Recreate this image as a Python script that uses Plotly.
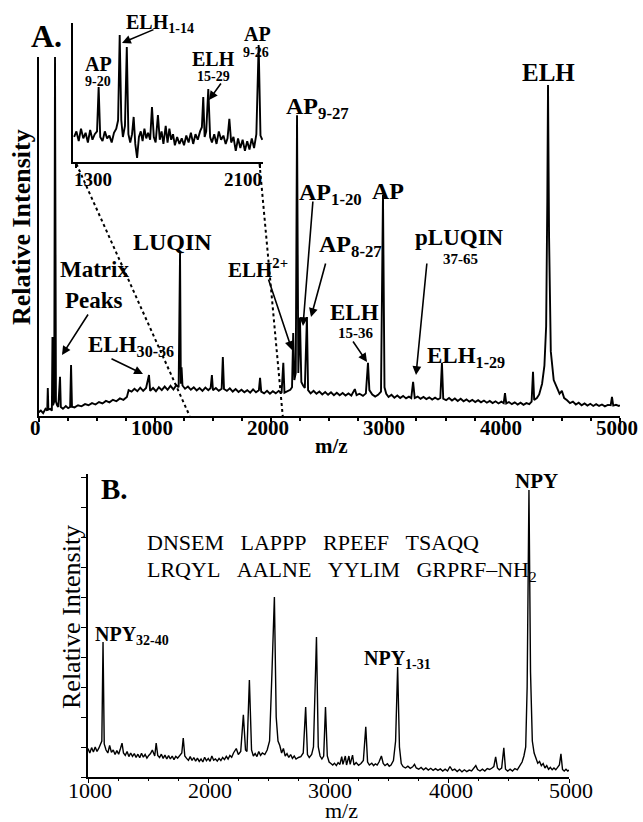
import plotly.graph_objects as go

W, H = 643, 822
FONT = "Liberation Serif"

# ---------------- Panel A: main spectrum (m/z, relative intensity) ----------------
A_MZ = [0, 20, 40, 60, 75, 80, 85, 100, 115, 120, 125, 135, 142, 150, 160, 170, 185, 192,
        210, 235, 255, 272, 280, 288, 310, 340, 370, 400, 430, 460, 490, 520, 550, 580,
        610, 640, 670, 700, 730, 760, 775, 800, 825, 850, 875, 900, 925, 950, 960, 985,
        1010, 1035, 1060, 1085, 1110, 1135, 1160, 1185, 1205, 1217, 1224, 1230, 1238,
        1260, 1285, 1310, 1335, 1360, 1385, 1410, 1435, 1460, 1480, 1491, 1500, 1525,
        1550, 1575, 1585, 1595, 1620, 1645, 1670, 1695, 1720, 1745, 1770, 1795, 1820,
        1845, 1870, 1895, 1905, 1915, 1940, 1965, 1990, 2015, 2040, 2065, 2090, 2105,
        2115, 2140, 2165, 2180, 2190, 2200, 2212, 2223, 2234, 2248, 2260, 2275, 2290,
        2308, 2318, 2340, 2365, 2390, 2415, 2440, 2465, 2490, 2515, 2540, 2565, 2590,
        2615, 2640, 2665, 2690, 2720, 2735, 2760, 2790, 2815, 2833, 2845, 2870, 2895,
        2920, 2945, 2962, 2975, 2990, 3010, 3035, 3060, 3085, 3110, 3135, 3160, 3185,
        3205, 3221, 3235, 3260, 3285, 3310, 3335, 3360, 3385, 3410, 3435, 3455, 3469,
        3480, 3505, 3530, 3555, 3580, 3605, 3630, 3655, 3680, 3705, 3730, 3755, 3780,
        3805, 3830, 3855, 3880, 3905, 3930, 3955, 3980, 4000, 4011, 4022, 4045, 4070,
        4095, 4120, 4145, 4170, 4195, 4220, 4240, 4252, 4262, 4285, 4305, 4330, 4350,
        4365, 4375, 4381, 4390, 4405, 4430, 4460, 4480, 4500, 4520, 4545, 4570, 4595,
        4620, 4645, 4670, 4695, 4720, 4745, 4770, 4795, 4820, 4845, 4870, 4895, 4920,
        4931, 4942, 4965, 4990, 5000]
A_INT = [1.0, 1.5, 0.8, 2.0, 1.5, 7.8, 1.8, 2.0, 1.5, 22.0, 3.0, 4.0, 100.0, 4.0, 3.0, 2.5, 10.9, 2.5,
         2.0, 2.8, 2.2, 2.5, 14.2, 2.6, 2.4, 3.0, 2.7, 3.3, 3.0, 3.6, 3.2, 3.9, 3.5, 4.2,
         3.8, 4.5, 4.1, 4.9, 4.5, 5.3, 7.2, 6.8, 7.6, 6.9, 7.9, 7.0, 7.8, 11.4, 7.0, 7.8,
         6.9, 8.0, 7.2, 8.2, 7.3, 8.4, 7.4, 8.6, 8.0, 45.4, 9.0, 13.6, 8.5,
         7.6, 8.2, 7.3, 8.0, 7.1, 7.8, 7.0, 7.9, 7.2, 7.8, 11.4, 7.2, 7.8,
         7.0, 7.6, 16.4, 7.5, 7.0, 7.7, 6.8, 7.5, 6.7, 7.3, 6.6, 7.2, 6.5,
         7.4, 6.6, 7.2, 10.6, 6.8, 6.3, 7.0, 6.2, 6.9, 6.3, 7.0, 6.4, 14.8,
         6.5, 6.8, 7.3, 8.0, 23.1, 10.0, 12.0, 83.8, 12.0, 27.3, 9.5, 8.5, 7.8,
         27.6, 7.2, 6.3, 7.0, 6.2, 6.8, 6.0, 6.7, 5.9, 6.6, 5.8, 6.5, 5.8,
         6.4, 5.7, 6.3, 5.7, 7.5, 5.8, 6.2, 5.6, 6.3, 14.8, 7.2, 6.0, 5.4,
         5.9, 6.8, 61.6, 8.0, 6.2, 5.3, 5.9, 5.1, 5.7, 5.0, 5.6, 4.9, 5.4,
         5.0, 9.5, 5.0, 5.4, 4.8, 5.3, 4.7, 5.2, 4.6, 5.1, 4.6, 5.0, 14.8,
         4.8, 4.4, 5.0, 4.3, 4.9, 4.2, 4.8, 4.1, 4.6, 4.0, 4.5, 3.9, 4.4,
         3.8, 4.3, 3.7, 4.2, 3.6, 4.1, 3.5, 4.0, 3.6, 6.4, 3.5, 3.9, 3.3,
         3.8, 3.2, 3.7, 3.1, 3.6, 3.3, 4.0, 12.3, 4.5, 5.0, 6.0, 9.0, 14.0,
         25.0, 60.0, 92.2, 50.0, 18.0, 10.0, 8.0, 6.2, 7.0, 5.0, 4.4, 3.6, 4.0,
         3.2, 3.7, 3.0, 3.5, 2.9, 3.4, 2.8, 3.3, 2.8, 3.2, 2.7, 3.1, 3.0,
         5.3, 2.9, 3.1, 2.8, 3.0]

# ---------------- Panel A inset: 1300-2100 zoom ----------------
INSET_MZ = [1290, 1300, 1310, 1320, 1330, 1340, 1350, 1360, 1370, 1380, 1390, 1397, 1404,
            1414, 1424, 1434, 1444, 1454, 1464, 1474, 1482, 1489, 1496, 1503, 1512, 1520,
            1527, 1535, 1543, 1550, 1557, 1565, 1573, 1581, 1589, 1597, 1605, 1613, 1622,
            1630, 1638, 1646, 1656, 1664, 1672, 1680, 1690, 1698, 1706, 1714, 1722, 1730,
            1740, 1750, 1760, 1770, 1780, 1790, 1800, 1810, 1820, 1830, 1840, 1848, 1854,
            1860, 1867, 1876, 1884, 1892, 1902, 1912, 1922, 1932, 1942, 1952, 1960, 1968,
            1976, 1986, 1996, 2006, 2016, 2026, 2036, 2046, 2056, 2066, 2076, 2086, 2096,
            2104, 2112]
INSET_INT = [18, 22, 15, 24, 17, 21, 14, 23, 16, 20, 22, 54, 18,
             15, 22, 17, 19, 14, 21, 24, 30, 91.4, 30, 18, 26, 82.7,
             20, 14, 20, 32.4, 13, 3, 18, 22, 15, 24, 17, 21, 16,
             39.6, 18, 14, 33.8, 16, 22, 13, 26, 14, 24, 16, 20, 12,
             18, 13, 17, 12, 19, 14, 21, 13, 20, 16, 22, 25, 46.8,
             18, 22, 52.5, 18, 14, 20, 13, 22, 16, 19, 13, 17, 31,
             14, 18, 8, 17, 10, 16, 8, 15, 9, 17, 10, 20, 84.2,
             19, 16]
INSET_TICKS = [1300, 2100]

# ---------------- Panel B: NPY spectrum ----------------
B_MZ = [1000, 1015, 1030, 1045, 1060, 1075, 1090, 1105, 1115, 1125, 1135, 1150, 1165, 1180,
        1195, 1210, 1225, 1240, 1255, 1270, 1283, 1295, 1310, 1325, 1340, 1355, 1370, 1385,
        1400, 1415, 1430, 1445, 1460, 1475, 1490, 1505, 1520, 1535, 1555, 1567, 1580, 1595,
        1610, 1625, 1640, 1655, 1670, 1685, 1700, 1715, 1730, 1745, 1765, 1780, 1792, 1805,
        1820, 1835, 1850, 1865, 1880, 1895, 1910, 1925, 1940, 1955, 1970, 1985, 2000, 2015,
        2030, 2045, 2060, 2075, 2090, 2105, 2120, 2135, 2150, 2165, 2180, 2195, 2210, 2233,
        2250, 2270, 2292, 2310, 2322, 2342, 2360, 2375, 2390, 2405, 2420, 2435, 2450, 2470,
        2490, 2510, 2530, 2550, 2565, 2580, 2595, 2610, 2625, 2640, 2655, 2670, 2685, 2700,
        2715, 2730, 2750, 2770, 2790, 2810, 2825, 2840, 2860, 2875, 2900, 2915, 2930, 2945,
        2960, 2975, 2990, 3005, 3020, 3035, 3050, 3065, 3080, 3095, 3110, 3120, 3140, 3150,
        3170, 3180, 3200, 3212, 3230, 3250, 3270, 3290, 3310, 3325, 3340, 3360, 3375, 3390,
        3405, 3420, 3440, 3455, 3470, 3490, 3505, 3520, 3540, 3558, 3575, 3590, 3605, 3620,
        3640, 3660, 3680, 3700, 3715, 3730, 3750, 3770, 3790, 3810, 3830, 3850, 3870, 3890,
        3910, 3930, 3950, 3970, 3990, 4010, 4030, 4050, 4070, 4090, 4110, 4130, 4150, 4170,
        4190, 4210, 4225, 4240, 4260, 4280, 4300, 4320, 4340, 4360, 4375, 4390, 4405, 4420,
        4440, 4458, 4472, 4490, 4510, 4530, 4550, 4570, 4590, 4610, 4625, 4640, 4652, 4667,
        4680, 4695, 4710, 4725, 4740, 4755, 4770, 4785, 4800, 4815, 4830, 4845, 4860, 4875,
        4890, 4905, 4920, 4933, 4946, 4960, 4975, 4990, 5000]
B_INT = [9.5, 8.0, 9.8, 8.3, 10.0, 8.5, 9.6, 11.0, 12.0, 45.0, 11.0, 9.0, 8.0, 10.5,
         8.2, 9.0, 7.5, 8.8, 7.6, 9.5, 11.3, 8.0, 7.2, 8.5, 6.8, 8.0, 6.9, 7.8,
         6.5, 7.6, 6.4, 7.9, 6.6, 7.5, 6.3, 7.2, 7.8, 9.0, 7.0, 11.3, 7.2, 6.5,
         7.6, 6.2, 7.3, 6.0, 7.1, 6.0, 7.0, 5.8, 6.9, 6.3, 7.5, 8.0, 13.0, 7.0,
         6.2, 5.6, 6.8, 5.5, 6.5, 5.3, 6.3, 5.2, 6.0, 5.0, 6.6, 5.4, 6.2, 5.2,
         7.0, 5.6, 6.0, 5.3, 6.2, 5.5, 6.5, 5.8, 6.9, 6.0, 7.2, 6.6, 8.0, 9.5,
         7.5, 8.5, 20.7, 9.0, 8.5, 32.3, 9.0, 7.0, 7.8, 6.8, 8.5, 7.2, 8.0, 7.5,
         9.0, 12.0, 35.0, 60.0, 20.0, 12.0, 10.5, 8.0, 9.5, 7.0, 7.8, 6.5, 7.5, 6.2,
         7.0, 6.0, 6.5, 6.8, 8.0, 23.3, 7.5, 6.5, 7.5, 10.0, 46.7, 10.0, 7.0, 6.0,
         7.0, 23.3, 7.0, 5.0, 4.5, 4.0, 4.6, 3.8, 4.8, 4.2, 6.8, 4.2, 7.0, 4.0,
         7.0, 4.2, 7.3, 4.0, 4.8, 3.9, 4.5, 5.5, 16.7, 5.0, 4.0, 4.6, 3.8, 4.4,
         4.0, 5.0, 7.0, 4.5, 3.8, 4.4, 3.6, 4.0, 5.5, 12.0, 36.7, 10.0, 4.5, 3.5,
         3.0, 3.6, 2.9, 3.4, 4.2, 3.0, 2.6, 3.2, 2.4, 3.0, 2.3, 2.9, 2.2, 2.8,
         2.2, 2.7, 2.0, 2.6, 2.0, 3.5, 2.2, 2.6, 1.8, 2.5, 1.7, 2.4, 1.8, 2.3,
         2.0, 3.0, 3.8, 2.5, 2.0, 2.6, 2.0, 2.8, 2.5, 3.0, 3.5, 6.7, 3.0, 2.4,
         3.0, 9.7, 2.6, 2.0, 2.6, 2.0, 2.8, 2.4, 3.5, 5.0, 7.0, 10.0, 30.0, 95.7,
         35.0, 12.0, 8.0, 6.0, 4.6, 5.2, 3.8, 4.5, 3.0, 3.8, 2.6, 3.2, 2.4, 3.0,
         2.4, 3.2, 4.0, 7.7, 2.5, 2.0, 2.6, 2.0, 2.3]

A_TICKS = [0, 1000, 2000, 3000, 4000, 5000]
B_TICKS = [1000, 2000, 3000, 4000, 5000]
B_SEQ = ["DNSEM", "LAPPP", "RPEEF", "TSAQQ", "LRQYL", "AALNE", "YYLIM", "GRPRF–NH<sub>2</sub>"]

# ---------------- layout geometry (pixels) ----------------
A_X = (38.5, 620.0); A_Y = (416.0, 57.0); A_RX = (0, 5000); A_RY = (0, 100)
I_X = (73.0, 263.0); I_Y = (162.0, 23.0); I_RX = (1285, 2115); I_RY = (0, 100)
B_X = (88.0, 569.0); B_Y = (777.0, 474.0); B_RX = (1000, 5000); B_RY = (0, 101)


def px(v, dom, rng):
    return dom[0] + (v - rng[0]) / (rng[1] - rng[0]) * (dom[1] - dom[0])


def xd(dom):
    return [dom[0] / W, dom[1] / W]


def yd(dom):
    return [1 - dom[0] / H, 1 - dom[1] / H]


fig = go.Figure()
fig.add_trace(go.Scatter(x=A_MZ, y=A_INT, mode="lines", line=dict(color="black", width=1.9),
                         xaxis="x", yaxis="y", hoverinfo="skip"))
fig.add_trace(go.Scatter(x=INSET_MZ, y=INSET_INT, mode="lines", line=dict(color="black", width=1.9),
                         xaxis="x2", yaxis="y2", hoverinfo="skip"))
fig.add_trace(go.Scatter(x=B_MZ, y=B_INT, mode="lines", line=dict(color="black", width=1.4),
                         xaxis="x3", yaxis="y3", hoverinfo="skip"))

common = dict(showgrid=False, zeroline=False, showline=True, linecolor="black",
              automargin=False, showticklabels=False)

fig.update_layout(
    template="none",
    width=W, height=H, margin=dict(l=0, r=0, t=0, b=0, pad=0, autoexpand=False),
    paper_bgcolor="white", plot_bgcolor="rgba(0,0,0,0)", showlegend=False,
    xaxis=dict(domain=xd(A_X), range=list(A_RX), anchor="y", linewidth=2, ticks="outside",
               tickvals=A_TICKS, ticklen=4, tickwidth=1.5, tickcolor="black",
               minor=dict(dtick=250, tick0=0, ticks="outside", ticklen=3, tickcolor="black", showgrid=False),
               **common),
    yaxis=dict(domain=yd(A_Y), range=list(A_RY), anchor="x", linewidth=2, ticks="", **common),
    xaxis2=dict(domain=xd(I_X), range=list(I_RX), anchor="y2", linewidth=2, ticks="outside",
                tickvals=INSET_TICKS, ticklen=4, tickwidth=1.5, tickcolor="black", **common),
    yaxis2=dict(domain=yd(I_Y), range=list(I_RY), anchor="x2", linewidth=2, ticks="", **common),
    xaxis3=dict(domain=xd(B_X), range=list(B_RX), anchor="y3", linewidth=1.5, ticks="outside",
                tickvals=B_TICKS, ticklen=4, tickwidth=1.2, tickcolor="black",
                minor=dict(dtick=250, tick0=1000, ticks="outside", ticklen=2, tickcolor="black", showgrid=False),
                **common),
    yaxis3=dict(domain=yd(B_Y), range=list(B_RY), anchor="x3", linewidth=1.5,
                ticks="outside", tickvals=list(range(0, 101, 10)), ticklen=5, tickwidth=1.2,
                tickcolor="black", **common),
)


def txt(x, y, s, size, bold=True, xanchor="center", angle=0):
    fig.add_annotation(x=x / W, y=1 - y / H, xref="paper", yref="paper", text=s, showarrow=False,
                       font=dict(family=FONT, size=size, color="black", weight="bold" if bold else "normal"),
                       xanchor=xanchor, yanchor="middle", textangle=angle, borderpad=0)


def arrow(x0, y0, x1, y1):
    fig.add_annotation(x=x1 / W, y=1 - y1 / H, xref="paper", yref="paper", ax=x0 - x1, ay=y0 - y1,
                       axref="pixel", ayref="pixel", text="", showarrow=True, arrowhead=2,
                       arrowsize=1.1, arrowwidth=1.6, arrowcolor="black", standoff=0, startstandoff=0)


# ---- tick labels placed from the axis scales ----
for v in A_TICKS:
    txt(px(v, A_X, A_RX) - 3, A_Y[0] + 12, str(v), 21)
for v in B_TICKS:
    txt(px(v, B_X, B_RX) + 2, B_Y[0] + 13, str(v), 22, bold=False)
txt(px(INSET_TICKS[0], I_X, I_RX) + 17, I_Y[0] + 18, str(INSET_TICKS[0]), 19)
txt(px(INSET_TICKS[1], I_X, I_RX) - 17, I_Y[0] + 18, str(INSET_TICKS[1]), 19)

# ---- Panel A texts ----
txt(46, 36, "A.", 32)
txt(21, 227, "Relative Intensity", 26, angle=-90)
txt(331, 446, "m/z", 21)
txt(548, 72, "ELH", 25)
txt(285, 108, "AP<sub>9-27</sub>", 24, xanchor="left")
txt(298, 194, "AP<sub>1-20</sub>", 24, xanchor="left")
txt(388, 191, "AP", 24)
txt(318, 246, "AP<sub>8-27</sub>", 24, xanchor="left")
txt(354, 312, "ELH", 23)
txt(355, 333, "15-36", 15)
txt(459, 238, "pLUQIN", 23)
txt(460, 259, "37-65", 15)
txt(426, 357, "ELH<sub>1-29</sub>", 23, xanchor="left")
txt(172, 242, "LUQIN", 24)
txt(227, 268, "ELH<sup>2+</sup>", 21, xanchor="left")
txt(94, 270, "Matrix", 23)
txt(94, 300, "Peaks", 23)
txt(87, 346, "ELH<sub>30-36</sub>", 23, xanchor="left")

arrow(89, 313, 62, 355)
arrow(110, 358, 143, 374)
arrow(268, 278, 292, 350)
arrow(313, 200, 303, 326)
arrow(326, 262, 311, 317)
arrow(427, 262, 416, 375)
arrow(352, 340, 367, 362)

# ---- inset texts ----
txt(98, 64, "AP", 20)
txt(98, 81, "9-20", 14)
txt(125, 23, "ELH<sub>1-14</sub>", 20, xanchor="left")
txt(213, 59, "ELH", 20)
txt(213, 76, "15-29", 14)
txt(257, 34, "AP", 20)
txt(256, 52, "9-26", 14)
arrow(155, 29, 122, 43)
arrow(222, 82, 209, 100)

# dotted connectors from inset range to the main axis
for v in INSET_TICKS:
    fig.add_shape(type="line", xref="paper", yref="paper",
                  x0=px(v, I_X, I_RX) / W, y0=1 - (I_Y[0] + 2) / H,
                  x1=px(v, A_X, A_RX) / W, y1=1 - A_Y[0] / H,
                  line=dict(color="black", width=2, dash="dot"))

# ---- Panel B texts ----
txt(114, 489, "B.", 29)
txt(71, 617, "Relative Intensity", 26, bold=False, angle=-90)
txt(341, 810, "m/z", 22, bold=False)
txt(536, 481, "NPY", 21)
txt(94, 635, "NPY<sub>32-40</sub>", 20, xanchor="left")
txt(363, 659, "NPY<sub>1-31</sub>", 20, xanchor="left")
SP = "\u00a0\u00a0\u00a0"
txt(146, 542, SP.join(B_SEQ[:4]), 22, bold=False, xanchor="left")
txt(146, 571, SP.join(B_SEQ[4:]), 22, bold=False, xanchor="left")

fig.write_html("out.html", config={"displayModeBar": False},
               post_script="document.body.style.margin='0px';document.body.style.overflow='hidden';")
